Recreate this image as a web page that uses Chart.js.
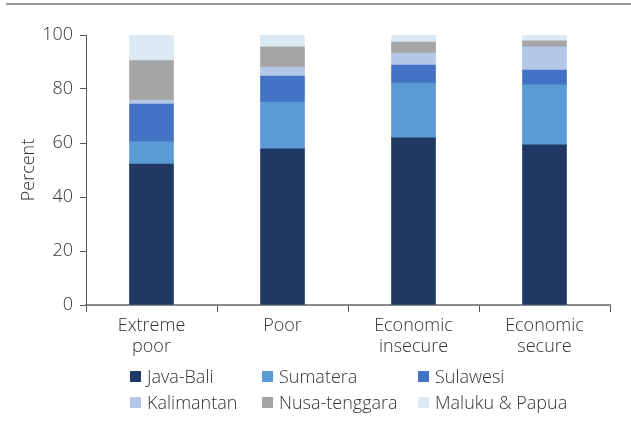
<!DOCTYPE html>
<html>
<head>
<meta charset="utf-8">
<script src="https://cdn.jsdelivr.net/npm/chart.js@4"></script>
<style>
  body { margin: 0; background: #fff; }
  #wrap { position: relative; width: 631px; height: 422px; }
  #topline { position: absolute; left: 6px; right: 0; top: 3px; border-top: 2px solid #9a9a9a; }
  #legend { position: absolute; left: 130px; top: 365px; font-family: "Open Sans", sans-serif; font-weight: 300;
    font-size: 18px; color: #333; display: grid; grid-template-columns: 132px 156px 160px; row-gap: 4px; }
  #legend div { display: flex; align-items: center; height: 22px; white-space: nowrap; }
  #legend span.box { width: 11px; height: 11px; margin-right: 6px; display: inline-block; }
</style>
</head>
<body>
<div id="wrap">
  <div id="topline"></div>
  <canvas id="myChart" width="631" height="422"></canvas>
  <div id="legend"></div>
</div>
<script>
var categories = [['Extreme', 'poor'], 'Poor', ['Economic', 'insecure'], ['Economic', 'secure']];
var regions = ['Java-Bali', 'Sumatera', 'Sulawesi', 'Kalimantan', 'Nusa-tenggara', 'Maluku & Papua'];
var javaBali = [52.2, 57.8, 61.9, 59.3];
var sumatera = [8.2, 17.4, 20.3, 22.2];
var sulawesi = [14.0, 9.6, 6.7, 5.5];
var kalimantan = [1.5, 3.3, 4.4, 8.6];
var nusaTenggara = [14.6, 7.5, 4.1, 2.2];
var malukuPapua = [9.5, 4.4, 2.6, 2.2];
var yTicks = [0, 20, 40, 60, 80, 100];

var colors = ['#203864', '#5b9bd5', '#4472c4', '#b4c7e7', '#a5a5a5', '#dbeaf2'];
var series = [javaBali, sumatera, sulawesi, kalimantan, nusaTenggara, malukuPapua];

var font = { family: '"Open Sans", sans-serif', size: 18, weight: 300, lineHeight: 1.15 };

var datasets = [];
for (var i = 0; i < regions.length; i++) {
  datasets.push({
    label: regions[i],
    data: series[i],
    backgroundColor: colors[i],
    borderWidth: 0,
    barThickness: 44
  });
}

var ctx = document.getElementById("myChart");
var chart = new Chart(ctx, {
  type: 'bar',
  data: { labels: categories, datasets: datasets },
  options: {
    responsive: false,
    animation: false,
    layout: { padding: { top: 35, right: 21, bottom: 57, left: 0 } },
    plugins: { legend: { display: false }, tooltip: { enabled: false } },
    scales: {
      x: {
        stacked: true,
        offset: true,
        afterFit: function (scale) { scale.height = 60; },
        grid: { offset: true, drawOnChartArea: false, tickLength: 7, color: '#555', tickWidth: 1 },
        border: { color: '#8a8a8a', width: 2 },
        ticks: { color: '#333', font: font, padding: 4, maxRotation: 0 }
      },
      y: {
        stacked: true,
        min: 0,
        max: 100,
        afterFit: function (scale) { scale.width = 86; },
        afterBuildTicks: function (scale) {
          scale.ticks = yTicks.map(function (v) { return { value: v }; });
        },
        grid: { drawOnChartArea: false, tickLength: 6, color: '#555' },
        border: { color: '#555', width: 1 },
        ticks: { color: '#333', font: font, padding: 7 },
        title: { display: true, text: 'Percent', color: '#333', font: font, padding: { top: 19, bottom: 0 } }
      }
    }
  }
});

// legend in 3 columns like the original
var legend = document.getElementById("legend");
for (var j = 0; j < chart.data.datasets.length; j++) {
  var ds = chart.data.datasets[j];
  var item = document.createElement("div");
  item.innerHTML = '<span class="box" style="background:' + ds.backgroundColor + '"></span>' + ds.label;
  legend.appendChild(item);
}
</script>
</body>
</html>
